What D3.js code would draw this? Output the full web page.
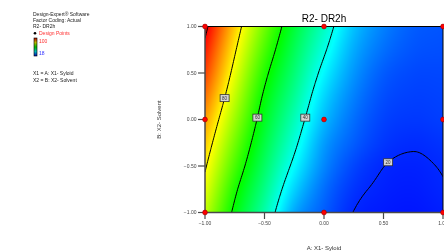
<!DOCTYPE html>
<html>
<head>
<meta charset="utf-8">
<script src="https://cdn.jsdelivr.net/npm/d3@7"></script>
<style>
  body { margin: 0; background: #fff; }
  #wrap { position: relative; width: 444px; height: 251px; overflow: hidden; }
  #wrap canvas, #wrap svg { position: absolute; left: 0; top: 0; }
  text { font-family: Arial, "Liberation Sans", sans-serif; }
</style>
</head>
<body>
<div id="wrap">
  <canvas id="heat" width="444" height="251"></canvas>
  <svg id="chart" width="444" height="251"></svg>
</div>
<script>
// ---- data ----
var gridX = [-1, -0.75, -0.5, -0.25, 0, 0.25, 0.5, 0.75, 1];
var gridY = [1, 0.75, 0.5, 0.25, 0, -0.25, -0.5, -0.75, -1];
// estimated DR2h response, one row per gridY value, columns follow gridX
var dr2h = [
  [101.8, 83.8, 68.1, 54.7, 43.6, 33.4, 27.7, 24.6, 23.8],
  [98.3, 80.8, 65.0, 52.2, 40.9, 31.4, 26.2, 23.8, 23.3],
  [95.0, 77.8, 61.8, 49.7, 38.0, 29.5, 24.5, 22.8, 22.7],
  [91.2, 74.7, 58.9, 47.1, 35.2, 27.7, 23.3, 22.1, 22.3],
  [87.4, 71.5, 56.4, 44.3, 32.8, 26.1, 22.3, 21.4, 21.9],
  [84.0, 68.2, 53.8, 41.5, 30.2, 24.6, 21.3, 20.35, 21.0],
  [80.8, 64.9, 51.1, 38.4, 28.3, 22.6, 20.05, 19.5, 20.2],
  [77.8, 61.4, 48.2, 34.8, 26.1, 21.1, 19.4, 19.0, 19.8],
  [74.6, 58.4, 45.3, 31.0, 24.5, 19.9, 18.8, 18.5, 19.2]
];
var levels = [20, 40, 60, 80, 100];
var labelAtY = [-0.46, 0.02, 0.02, 0.23, null]; // where each contour gets its box
var designX = [-1, 0, 1, -1, 0, 1, -1, 0, 1];
var designY = [1, 1, 1, 0, 0, 0, -1, -1, -1];
var xTicks = [-1, -0.5, 0, 0.5, 1];
var yTicks = [-1, -0.5, 0, 0.5, 1];
var legendRange = [18, 100];
var infoLines = ["Design-Expert\u00ae Software", "Factor Coding: Actual", "R2- DR2h"];
var factorLines = ["X1 = A: X1- Syloid", "X2 = B: X2- Solvent"];

// ---- layout ----
var pL = 205, pR = 443, pT = 26.5, pB = 212.5;
var x = d3.scaleLinear().domain([-1, 1]).range([pL, pR]);
var y = d3.scaleLinear().domain([-1, 1]).range([pB, pT]);

var lo = legendRange[0], hi = legendRange[1];
var color = d3.scaleLinear()
  .domain(d3.range(5).map(function (i) { return lo + i * (hi - lo) / 4; }))
  .range(["#0010ff", "#00ffff", "#00ff00", "#ffff00", "#ff0000"])
  .clamp(true);

// smooth reading of the grid (catmull-rom)
var nx = gridX.length, ny = gridY.length;
var colOf = d3.scaleLinear().domain([gridX[0], gridX[nx - 1]]).range([0, nx - 1]);
var rowOf = d3.scaleLinear().domain([gridY[0], gridY[ny - 1]]).range([0, ny - 1]);
function gv(i, j) {
  if (i < 0) return 2 * gv(0, j) - gv(1, j);
  if (i > nx - 1) return 2 * gv(nx - 1, j) - gv(nx - 2, j);
  if (j < 0) return 2 * gv(i, 0) - gv(i, 1);
  if (j > ny - 1) return 2 * gv(i, ny - 1) - gv(i, ny - 2);
  return dr2h[j][i];
}
function cr(p0, p1, p2, p3, t) {
  return p1 + 0.5 * t * (p2 - p0 + t * (2 * p0 - 5 * p1 + 4 * p2 - p3 + t * (3 * (p1 - p2) + p3 - p0)));
}
function surface(xv, yv) {
  var fi = colOf(xv), fj = rowOf(yv);
  var i = Math.min(nx - 2, Math.max(0, Math.floor(fi)));
  var j = Math.min(ny - 2, Math.max(0, Math.floor(fj)));
  var tx = fi - i, ty = fj - j;
  var r = [-1, 0, 1, 2].map(function (dj) {
    return cr(gv(i - 1, j + dj), gv(i, j + dj), gv(i + 1, j + dj), gv(i + 2, j + dj), tx);
  });
  return cr(r[0], r[1], r[2], r[3], ty);
}

// ---- colour fill on the canvas ----
var ctx = document.getElementById("heat").getContext("2d");
var x0 = Math.round(pL), y0 = Math.round(pT);
var w = Math.round(pR) - x0, h = Math.round(pB) - y0;
var img = ctx.createImageData(w, h);
for (var py = 0; py < h; py++) {
  for (var px = 0; px < w; px++) {
    var c = d3.rgb(color(surface(x.invert(x0 + px + 0.5), y.invert(y0 + py + 0.5))));
    var k = (py * w + px) * 4;
    img.data[k] = c.r; img.data[k + 1] = c.g; img.data[k + 2] = c.b; img.data[k + 3] = 255;
  }
}
ctx.putImageData(img, x0, y0);

var svg = d3.select("#chart");

// ---- contour lines ----
var N = 81, M = 81;
var fine = new Array(N * M);
for (var j = 0; j < M; j++) {
  for (var i = 0; i < N; i++) {
    fine[j * N + i] = surface(-1 + i * 2 / (N - 1), 1 - j * 2 / (M - 1));
  }
}
function toData(p) {
  return [-1 + (p[0] - 0.5) * 2 / (N - 1), 1 - (p[1] - 0.5) * 2 / (M - 1)];
}
function openLines(ring) {
  var inside = function (p) { return p[0] > 0.25 && p[0] < N - 0.25 && p[1] > 0.25 && p[1] < M - 0.25; };
  var k = ring.findIndex(function (p) { return !inside(p); });
  if (k < 0) return [ring];
  var rot = ring.slice(k).concat(ring.slice(0, k));
  var lines = [], cur = [];
  rot.forEach(function (p) {
    if (inside(p)) cur.push(p);
    else { if (cur.length > 1) lines.push(cur); cur = []; }
  });
  if (cur.length > 1) lines.push(cur);
  return lines;
}

var contours = d3.contours().size([N, M]).thresholds(levels)(fine);
var line = d3.line().x(function (d) { return x(d[0]); }).y(function (d) { return y(d[1]); });

svg.append("defs").append("clipPath").attr("id", "clip")
  .append("rect").attr("x", pL).attr("y", pT).attr("width", pR - pL).attr("height", pB - pT);

var gLines = svg.append("g").attr("clip-path", "url(#clip)");
var labelSpots = [];
contours.forEach(function (ct, li) {
  var paths = [];
  ct.coordinates.forEach(function (poly) {
    poly.forEach(function (ring) {
      openLines(ring).forEach(function (l) { paths.push(l.map(toData)); });
    });
  });
  paths.forEach(function (p) {
    gLines.append("path").attr("d", line(p))
      .attr("fill", "none").attr("stroke", "#000").attr("stroke-width", 1);
  });
  // place the value box where the contour crosses labelAtY
  var ty = labelAtY[li], best = null;
  if (ty === null) return;
  paths.forEach(function (p) {
    for (var s = 1; s < p.length; s++) {
      var a = p[s - 1], b = p[s];
      if ((a[1] - ty) * (b[1] - ty) <= 0 && a[1] !== b[1]) {
        var xc = a[0] + (ty - a[1]) / (b[1] - a[1]) * (b[0] - a[0]);
        if (best === null || xc < best) best = xc;
      }
    }
  });
  if (best !== null) labelSpots.push({ level: ct.value, x: best, y: ty });
});

var gLab = svg.append("g");
labelSpots.forEach(function (d) {
  gLab.append("rect")
    .attr("x", x(d.x) - 4.5).attr("y", y(d.y) - 3.5)
    .attr("width", 9).attr("height", 7)
    .attr("fill", "#d4d4d4").attr("stroke", "#333").attr("stroke-width", 0.8);
  gLab.append("text")
    .attr("x", x(d.x)).attr("y", y(d.y) + 1.6)
    .attr("text-anchor", "middle").attr("font-size", 4.5).attr("fill", "#333")
    .text(d.level);
});

// ---- frame and axes ----
svg.append("line").attr("x1", pL).attr("x2", pR).attr("y1", pT).attr("y2", pT)
  .attr("stroke", "#000").attr("stroke-width", 1);
svg.append("line").attr("x1", pR).attr("x2", pR).attr("y1", pT).attr("y2", pB)
  .attr("stroke", "#000").attr("stroke-width", 1);
svg.append("line").attr("x1", pL).attr("x2", pL).attr("y1", pT).attr("y2", pB)
  .attr("stroke", "#4a4a4a").attr("stroke-width", 1.5);
svg.append("line").attr("x1", pL).attr("x2", pR).attr("y1", pB).attr("y2", pB)
  .attr("stroke", "#4a4a4a").attr("stroke-width", 1.5);

var gy = svg.append("g");
yTicks.forEach(function (t) {
  gy.append("line").attr("x1", pL - 7).attr("x2", pL).attr("y1", y(t)).attr("y2", y(t))
    .attr("stroke", "#4a4a4a").attr("stroke-width", 1.2);
  gy.append("text").attr("x", pL - 8.5).attr("y", y(t) + 1.8)
    .attr("text-anchor", "end").attr("font-size", 5).attr("fill", "#444")
    .text(d3.format(".2f")(t));
});
var gx = svg.append("g");
xTicks.forEach(function (t) {
  gx.append("line").attr("x1", x(t)).attr("x2", x(t)).attr("y1", pB).attr("y2", pB + 6.5)
    .attr("stroke", "#4a4a4a").attr("stroke-width", 1.2);
  gx.append("text").attr("x", x(t)).attr("y", pB + 12.3)
    .attr("text-anchor", "middle").attr("font-size", 5).attr("fill", "#444")
    .text(d3.format(".2f")(t));
});

// design points
svg.append("g").selectAll("circle").data(designX).join("circle")
  .attr("cx", function (d) { return x(d); })
  .attr("cy", function (d, i) { return y(designY[i]); })
  .attr("r", 2.4).attr("fill", "#ff0000").attr("stroke", "#900").attr("stroke-width", 0.6);

// titles
svg.append("text").attr("x", x(0)).attr("y", 22).attr("text-anchor", "middle")
  .attr("font-size", 10).attr("fill", "#000").text("R2- DR2h");
svg.append("text").attr("x", x(0)).attr("y", 249.5).attr("text-anchor", "middle")
  .attr("font-size", 6).attr("fill", "#333").text("A: X1- Syloid");
svg.append("text").attr("transform", "translate(161," + y(0) + ") rotate(-90)")
  .attr("text-anchor", "middle").attr("font-size", 6).attr("fill", "#333").text("B: X2- Solvent");

// ---- left-hand legend ----
var gLeg = svg.append("g");
infoLines.forEach(function (s, i) {
  gLeg.append("text").attr("x", 33).attr("y", 15.8 + i * 6.2)
    .attr("font-size", 5).attr("fill", "#222").text(s);
});
gLeg.append("circle").attr("cx", 35).attr("cy", 33.3).attr("r", 1.3).attr("fill", "#000");
gLeg.append("text").attr("x", 39).attr("y", 35.1).attr("font-size", 5).attr("fill", "#ff3030").text("Design Points");

var grad = svg.select("defs").append("linearGradient").attr("id", "bar")
  .attr("x1", 0).attr("x2", 0).attr("y1", 0).attr("y2", 1);
d3.range(5).forEach(function (i) {
  grad.append("stop").attr("offset", i / 4)
    .attr("stop-color", d3.color(color(hi - i * (hi - lo) / 4)).darker(0.9));
});
gLeg.append("rect").attr("x", 34).attr("y", 38).attr("width", 3).attr("height", 18)
  .attr("fill", "url(#bar)").attr("stroke", "#000").attr("stroke-width", 0.6);
gLeg.append("text").attr("x", 39).attr("y", 43).attr("font-size", 5).attr("fill", "#ff3030").text(hi);
gLeg.append("text").attr("x", 39).attr("y", 55).attr("font-size", 5).attr("fill", "#3030ff").text(lo);

factorLines.forEach(function (s, i) {
  gLeg.append("text").attr("x", 33).attr("y", 75.3 + i * 6.3)
    .attr("font-size", 5).attr("fill", "#222").text(s);
});
</script>
</body>
</html>
